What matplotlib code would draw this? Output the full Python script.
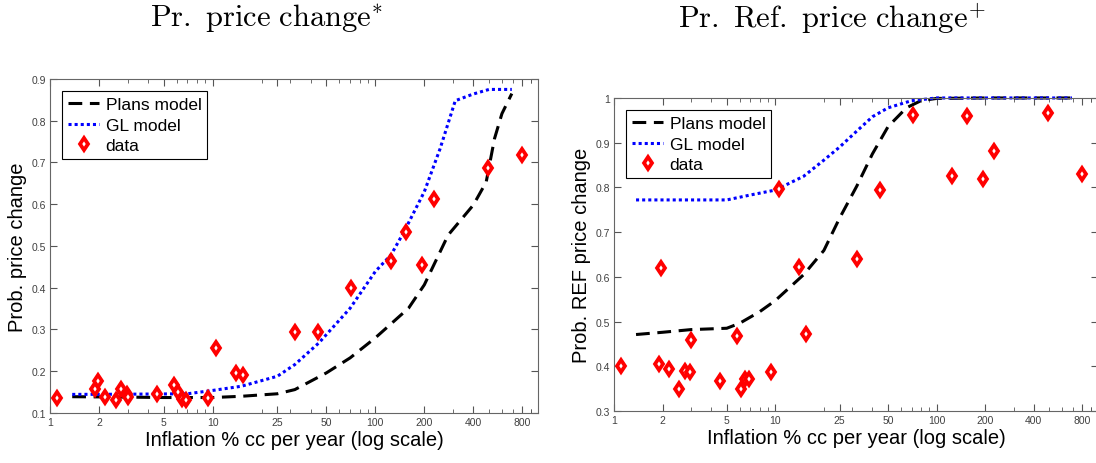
import numpy as np
import matplotlib
matplotlib.use("Agg")
import matplotlib.pyplot as plt
from matplotlib.ticker import FixedLocator, NullFormatter

plt.rcParams['font.family'] = ['Liberation Sans', 'DejaVu Sans']
plt.rcParams['mathtext.fontset'] = 'cm'

# inflation (% per year) of each country in the data
infl = [1.11, 1.9, 1.97, 2.18, 2.53, 2.74, 2.98, 3.02, 4.55, 5.8, 6.15, 6.5, 6.86,
        9.4, 10.5, 14.0, 15.4, 32.3, 44.5, 71, 125, 154, 193, 228, 490, 795]
# prob. of price change (left) and of reference price change (right)
pr_change = [0.136, 0.158, 0.176, 0.139, 0.131, 0.157, 0.146, 0.138, 0.146, 0.167,
             0.150, 0.134, 0.131, 0.135, 0.256, 0.195, 0.190, 0.293, 0.293, 0.399,
             0.464, 0.533, 0.455, 0.613, 0.688, 0.719]
pr_ref = [0.401, 0.405, 0.619, 0.395, 0.350, 0.389, 0.388, 0.458, 0.366, 0.467,
          0.349, 0.372, 0.372, 0.387, 0.796, 0.623, 0.473, 0.639, 0.795, 0.961,
          0.826, 0.960, 0.819, 0.882, 0.967, 0.831]

# model curves, left panel
x_plans1 = [1.37, 3, 5, 10, 15, 25, 32, 50, 70, 100, 160, 200, 280, 400, 480, 540, 600, 690]
y_plans1 = [0.139, 0.138, 0.137, 0.137, 0.140, 0.146, 0.156, 0.196, 0.232, 0.280,
            0.351, 0.407, 0.526, 0.598, 0.653, 0.757, 0.817, 0.865]
x_gl1 = [1.37, 3, 7, 10, 15, 25, 32, 45, 70, 100, 125, 150, 200, 250, 310, 400, 500, 690]
y_gl1 = [0.1445, 0.145, 0.146, 0.154, 0.164, 0.188, 0.216, 0.268, 0.351, 0.439,
         0.479, 0.534, 0.630, 0.733, 0.848, 0.864, 0.875, 0.875]

# model curves, right panel
x_plans2 = [1.37, 2, 3, 5, 6, 8, 10, 15, 20, 25, 32, 40, 50, 65, 80, 100, 200, 400, 690]
y_plans2 = [0.471, 0.476, 0.482, 0.485, 0.496, 0.522, 0.547, 0.605, 0.659, 0.731,
            0.803, 0.875, 0.936, 0.978, 0.994, 0.999, 1.0, 1.0, 1.0]
x_gl2 = [1.37, 3, 5, 7, 10, 15, 20, 25, 32, 40, 50, 70, 100, 200, 400, 690]
y_gl2 = [0.772, 0.772, 0.772, 0.783, 0.794, 0.825, 0.861, 0.890, 0.926, 0.958,
         0.978, 0.994, 1.0, 1.0, 1.0, 1.0]

xticks = [1, 2, 5, 10, 25, 50, 100, 200, 400, 800]

fig = plt.figure(figsize=(10.96, 4.64), dpi=100)
ax1 = fig.add_axes([0.0456, 0.1078, 0.4453, 0.7198])
ax2 = fig.add_axes([0.5602, 0.1121, 0.4416, 0.6746])

def style(ax, d, plx, ply, glx, gly, ylim, yticks, ylabels, ylab):
    ax.plot(plx, ply, color='black', lw=2.2, dashes=(4.5, 2.5), label='Plans model',
            clip_on=False)
    ax.plot(glx, gly, color=(0, 0, 1), lw=2.2, dashes=(1, 1), label='GL model',
            clip_on=False)
    ax.plot(infl, d, linestyle='none', marker='d', ms=6.5, mew=2.7, mec='red',
            mfc='white', label='data')
    ax.set_xscale('log')
    ax.set_xlim(1, 1000)
    ax.set_ylim(*ylim)
    ax.xaxis.set_major_locator(FixedLocator(xticks))
    ax.set_xticklabels([str(t) for t in xticks])
    minors = [m * 10 ** e for e in range(0, 3) for m in range(2, 10)]
    minors = [v for v in minors if v not in xticks] + [900]
    ax.xaxis.set_minor_locator(FixedLocator(minors))
    ax.xaxis.set_minor_formatter(NullFormatter())
    ax.set_yticks(yticks)
    ax.set_yticklabels(ylabels)
    ax.tick_params(which='both', direction='in', top=True, right=True,
                   labelsize=7.5, labelcolor='#404040', color='#555555', pad=3)
    ax.tick_params(which='major', length=5, width=0.8)
    ax.tick_params(which='minor', length=3, width=0.6)
    for s in ax.spines.values():
        s.set_color('#666666')
        s.set_linewidth(0.8)
    ax.set_xlabel('Inflation % cc per year (log scale)', fontsize=14.5, labelpad=2)
    ax.set_ylabel(ylab, fontsize=14.5, labelpad=3)
    leg = ax.legend(loc='upper left', fontsize=12.5, fancybox=False, framealpha=1,
                    edgecolor='black', handlelength=1.8, handletextpad=0.35,
                    borderpad=0.35, labelspacing=0.3, borderaxespad=0.7)
    leg.get_frame().set_linewidth(0.8)

style(ax1, pr_change, x_plans1, y_plans1, x_gl1, y_gl1, (0.1, 0.9),
      [0.1, 0.2, 0.3, 0.4, 0.5, 0.6, 0.7, 0.8, 0.9],
      ['0.1', '0.2', '0.3', '0.4', '0.5', '0.6', '0.7', '0.8', '0.9'],
      'Prob. price change')
style(ax2, pr_ref, x_plans2, y_plans2, x_gl2, y_gl2, (0.3, 1.0),
      [0.3, 0.4, 0.5, 0.6, 0.7, 0.8, 0.9, 1.0],
      ['0.3', '0.4', '0.5', '0.6', '0.7', '0.8', '0.9', '1'],
      'Prob. REF price change')

fig.text(0.243, 0.96, r'$\mathrm{Pr.\ price\ change}^{*}$', fontsize=22,
         ha='center', va='center')
fig.text(0.759, 0.96, r'$\mathrm{Pr.\ Ref.\ price\ change}^{+}$', fontsize=22,
         ha='center', va='center')

fig.savefig('out.png', dpi=100)
